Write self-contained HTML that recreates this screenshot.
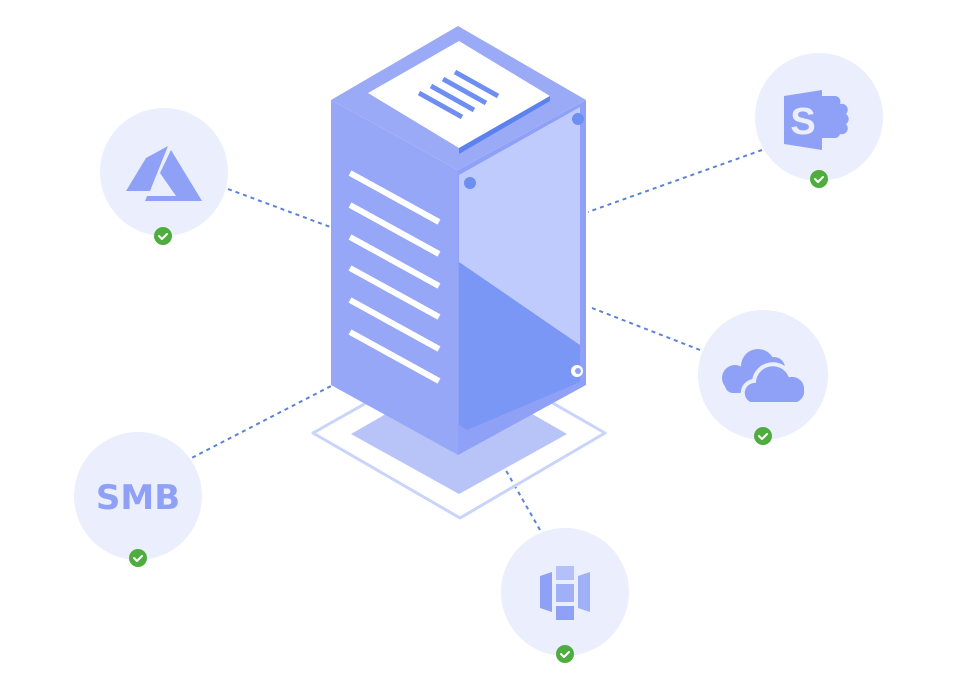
<!DOCTYPE html>
<html><head><meta charset="utf-8"><style>
html,body{margin:0;padding:0;background:#fff;}
svg{display:block;}
</style></head><body>
<svg width="963" height="678" viewBox="0 0 963 678" xmlns="http://www.w3.org/2000/svg">
<g stroke="#5b82d9" stroke-width="2" stroke-dasharray="4,4" fill="none">
<line x1="228" y1="189" x2="333" y2="228"/>
<line x1="762" y1="150" x2="588" y2="212"/>
<line x1="700" y1="350" x2="592" y2="308"/>
<line x1="178" y1="465" x2="333" y2="385"/>
<line x1="540" y1="530" x2="500" y2="460"/>
</g>
<path d="M460 350 L605 433 L460 518 L313 433 Z" fill="none" stroke="#c9d4fb" stroke-width="3" stroke-linejoin="round"/>
<path d="M459 372 L567 434 L459 494 L351 434 Z" fill="#b8c3f8"/>
<path d="M331 100 L458 170 L458 455 L331 385 Z" fill="#97a7f7"/>
<path d="M458 170 L586 100 L586 385 L458 455 Z" fill="#8fa1f6"/>
<path d="M458 26 L586 100 L458 170 L331 100 Z" fill="#9aaaf7"/>
<path d="M459 175 L580 107 L580 352 L459 262 Z" fill="#bfcbfc"/>
<path d="M459 262 L580 345 L580 382 L467 430 L459 425 Z" fill="#7a97f6"/>
<path d="M368 93 L459 41 L550 96 L459 148 Z" fill="#ffffff"/>
<path d="M459 148 L550 96 L550 101 L459 154 Z" fill="#5b82ef"/>
<g stroke="#6f8ef2" stroke-width="5">
<line x1="419" y1="93" x2="462" y2="117"/>
<line x1="431" y1="86" x2="474" y2="110"/>
<line x1="443" y1="79" x2="486" y2="103"/>
<line x1="455" y1="72" x2="498" y2="96"/>
</g>
<g stroke="#ffffff" stroke-width="6">
<line x1="350" y1="173" x2="439" y2="222"/>
<line x1="350" y1="205" x2="439" y2="254"/>
<line x1="350" y1="237" x2="439" y2="286"/>
<line x1="350" y1="268" x2="439" y2="317"/>
<line x1="350" y1="300" x2="439" y2="349"/>
<line x1="350" y1="332" x2="439" y2="381"/>
</g>
<circle cx="470" cy="183" r="6" fill="#6f8ef2"/>
<circle cx="578" cy="119" r="6" fill="#6f8ef2"/>
<circle cx="577" cy="371" r="6" fill="#ffffff"/><circle cx="578" cy="371" r="3" fill="#8fa1f6"/>
<g fill="#ebeefd">
<circle cx="164" cy="172" r="64"/>
<circle cx="819" cy="117" r="64"/>
<circle cx="763" cy="375" r="65"/>
<circle cx="138" cy="496" r="64"/>
<circle cx="565" cy="592" r="64"/>
</g>
<g fill="#8fa1f6">
<path d="M126 191 L146 158 L168 146 L150 191 Z"/>
<path d="M171 150 L202 201 L145 201 L147 196 L176 196 L160 173 Z"/>
</g>
<g fill="#8fa1f6">
<path d="M808 96 L836 96 a6 6 0 0 1 4 8 a6 6 0 0 1 6 10 a6 6 0 0 1 0 10 a6 6 0 0 1-6 10 a6 6 0 0 1-4 4 L808 138 Z"/>
<path d="M784 96 L822 90 L822 150 L784 144 Z"/>
</g>
<text x="803" y="134" font-family="Liberation Sans, sans-serif" font-weight="bold" font-size="38" fill="#ebeefd" text-anchor="middle">S</text>
<g fill="#8fa1f6">
<circle cx="735" cy="378" r="13"/>
<circle cx="758" cy="366" r="17"/>
<circle cx="774" cy="368" r="11"/>
<rect x="725" y="375" width="40" height="18" rx="8"/>
</g>
<g fill="#8fa1f6" stroke="#ebeefd" stroke-width="4">
<path d="M750 404 a12 12 0 0 1 4-23 a19 19 0 0 1 36-6 a14 14 0 0 1 16 15 a13 13 0 0 1-9 14 Z"/>
</g>
<text x="138" y="509" font-family="DejaVu Sans, Liberation Sans, sans-serif" font-weight="bold" font-size="34" fill="#8fa1f6" text-anchor="middle">SMB</text>
<g fill="#8fa1f6">
<path d="M540 576 L552 572 L552 612 L540 608 Z"/>
<path d="M578 576 L590 572 L590 612 L578 608 Z" fill="#9fb0f8"/>
<rect x="556" y="566" width="18" height="14" fill="#b4c0fa"/>
<rect x="556" y="584" width="18" height="18" fill="#9fb0f8"/>
<rect x="556" y="606" width="18" height="14" fill="#8fa1f6"/>
</g>
<g>
<circle cx="163" cy="236" r="9" fill="#4fad3f"/>
<circle cx="819" cy="179" r="9" fill="#4fad3f"/>
<circle cx="763" cy="436" r="9" fill="#4fad3f"/>
<circle cx="138" cy="558" r="9" fill="#4fad3f"/>
<circle cx="565" cy="654" r="9" fill="#4fad3f"/>
</g>
<g stroke="#fff" stroke-width="2" fill="none" stroke-linecap="round" stroke-linejoin="round">
<path d="M159 236 l3 3 l5-5"/>
<path d="M815 179 l3 3 l5-5"/>
<path d="M759 436 l3 3 l5-5"/>
<path d="M134 558 l3 3 l5-5"/>
<path d="M561 654 l3 3 l5-5"/>
</g>
</svg>
</body></html>
